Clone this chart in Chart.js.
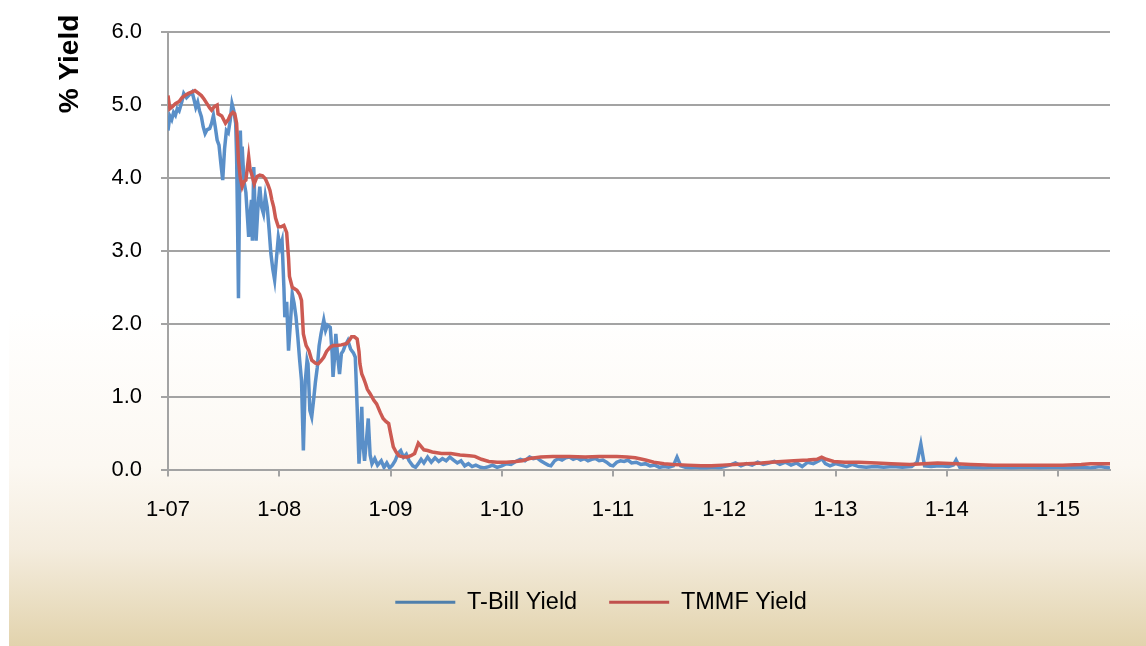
<!DOCTYPE html>
<html>
<head>
<meta charset="utf-8">
<script src="https://cdn.jsdelivr.net/npm/chart.js@4"></script>
<style>
  html, body { margin: 0; padding: 0; background: #fff; }
  #wrap { position: relative; width: 1146px; height: 646px; overflow: hidden; }
  #bg {
    position: absolute; left: 9px; top: 0; right: 0; bottom: 0;
    background: linear-gradient(to bottom, #ffffff 0%, #ffffff 48%, #fcf8f2 72%, #f4ecdd 85%, #e2d3ad 100%);
  }
  #chart { position: absolute; left: 0; top: 0; }
</style>
</head>
<body>
<div id="wrap">
  <div id="bg"></div>
  <canvas id="chart" width="1146" height="646"></canvas>
</div>
<script>
// x values are months since Jan 2007
var tickMonths = [0, 12, 24, 36, 48, 60, 72, 84, 96];
var tickLabels = ['1-07', '1-08', '1-09', '1-10', '1-11', '1-12', '1-13', '1-14', '1-15'];

var tbillMonths = [
  0, 0.2, 0.4, 0.6, 0.8, 1.0, 1.2, 1.5, 1.7, 2.0,
  2.3, 2.6, 2.8, 3.0, 3.2, 3.4, 3.6, 3.8, 4.0, 4.2,
  4.5, 4.7, 4.9, 5.1, 5.3, 5.5, 5.7, 5.9, 6.1, 6.3,
  6.5, 6.7, 6.9, 7.1, 7.3, 7.4, 7.5, 7.6, 7.7, 7.8,
  7.9, 8.0, 8.2, 8.4, 8.6, 8.7, 8.9, 9.0, 9.1, 9.25,
  9.4, 9.5, 9.7, 9.9, 10.1, 10.3, 10.5, 10.7, 10.9, 11.1,
  11.3, 11.5, 11.7, 11.9, 12.1, 12.3, 12.5, 12.6, 12.8, 13.0,
  13.2, 13.4, 13.6, 13.8, 14.0, 14.2, 14.4, 14.6, 14.8, 15.0,
  15.1, 15.3, 15.5, 15.7, 15.9, 16.1, 16.3, 16.5, 16.8, 17.0,
  17.2, 17.5, 17.7, 17.8, 18.0, 18.1, 18.3, 18.5, 18.7, 18.9,
  19.1, 19.4, 19.7, 20.0, 20.2, 20.4, 20.6, 20.8, 20.9, 21.0,
  21.2, 21.4, 21.6, 21.8,
  22.0, 22.3, 22.6, 23.0, 23.3, 23.6, 23.9, 24.2, 24.5, 24.8,
  25.1, 25.4, 25.7, 26.0, 26.4, 26.7, 27.0, 27.3, 27.6, 28.0,
  28.4, 28.8, 29.2, 29.6, 30.0, 30.4, 30.8, 31.2, 31.6, 32.0,
  32.4, 32.8, 33.2, 33.7, 34.1, 34.6, 35.0, 35.5, 36.0, 36.5,
  37.0, 37.5, 38.0, 38.5, 39.0, 39.4, 39.8, 40.2, 40.6, 41.0,
  41.3, 41.7, 42.1, 42.5, 42.9, 43.3, 43.7, 44.1, 44.5, 44.9,
  45.3, 45.7, 46.1, 46.5, 46.9, 47.3, 47.7, 48.0, 48.4, 48.8,
  49.2, 49.6, 50.0, 50.5, 51.0, 51.5, 52.0, 52.5, 53.0, 53.5,
  54.0, 54.5, 54.9, 55.3, 55.8, 56.4, 57.0, 57.6, 58.2, 58.8,
  59.4, 60.0, 60.6, 61.2, 61.8, 62.4, 63.0, 63.6, 64.2, 64.8,
  65.4, 66.0, 66.6, 67.2, 67.8, 68.4, 69.0, 69.6, 70.2, 70.5,
  70.9, 71.4, 72.0, 72.6, 73.2, 73.8, 74.5, 75.3, 76.2, 77.2,
  78.2, 79.2, 80.2, 80.8, 81.2, 81.6, 82.3, 83.2, 84.2, 84.7,
  85.0, 85.4, 86.5, 88.0, 89.5, 91.0, 92.5, 94.0, 95.5, 97.0,
  98.5, 99.5, 100.5, 101.6];
var tbillYield = [
  4.65, 4.85, 4.80, 4.90, 4.86, 4.95, 4.92, 5.05, 5.16, 5.10,
  5.14, 5.18, 5.08, 4.97, 5.04, 4.92, 4.84, 4.70, 4.61, 4.66,
  4.68, 4.75, 4.86, 4.70, 4.52, 4.45, 4.20, 3.97, 4.40, 4.65,
  4.62, 4.78, 5.02, 4.92, 4.75, 4.29, 3.40, 2.35, 3.60, 4.65,
  4.20, 4.43, 3.95, 3.80, 3.40, 3.19, 3.56, 3.70, 3.14, 4.15,
  3.50, 3.14, 3.60, 3.88, 3.60, 3.51, 3.75, 3.60, 3.30, 2.96,
  2.75, 2.60, 2.90, 3.19, 3.05, 3.14, 2.50, 2.09, 2.30, 1.63,
  2.00, 2.41, 2.28, 2.10, 1.82, 1.50, 1.22, 0.26, 1.20, 1.50,
  1.45, 0.81, 0.72, 0.95, 1.20, 1.40, 1.70, 1.86, 2.05, 1.91,
  1.98, 1.95, 1.60, 1.27, 1.60, 1.86, 1.55, 1.31, 1.59, 1.63,
  1.70, 1.77, 1.65, 1.60, 1.54, 0.86, 0.08, 0.50, 0.86, 0.40,
  0.12, 0.40, 0.70, 0.20,
  0.08, 0.15, 0.06, 0.12, 0.03, 0.09, 0.02, 0.06, 0.12, 0.22,
  0.26, 0.17, 0.21, 0.12, 0.05, 0.03, 0.08, 0.14, 0.09, 0.17,
  0.10, 0.16, 0.11, 0.15, 0.12, 0.17, 0.13, 0.09, 0.12, 0.05,
  0.08, 0.04, 0.06, 0.03, 0.02, 0.04, 0.06, 0.03, 0.05, 0.08,
  0.07, 0.11, 0.14, 0.12, 0.17, 0.15, 0.16, 0.12, 0.09, 0.06,
  0.05, 0.12, 0.15, 0.13, 0.16, 0.17, 0.14, 0.16, 0.13, 0.15,
  0.12, 0.14, 0.15, 0.12, 0.13, 0.10, 0.06, 0.05, 0.10, 0.12,
  0.11, 0.13, 0.09, 0.10, 0.07, 0.08, 0.05, 0.06, 0.03, 0.04,
  0.03, 0.05, 0.17, 0.05, 0.03, 0.02, 0.03, 0.01, 0.02, 0.03,
  0.02, 0.04, 0.06, 0.09, 0.05, 0.08, 0.06, 0.10, 0.07, 0.09,
  0.11, 0.07, 0.10, 0.06, 0.09, 0.04, 0.10, 0.08, 0.12, 0.15,
  0.08, 0.05, 0.08, 0.06, 0.04, 0.07, 0.04, 0.03, 0.04, 0.03,
  0.04, 0.03, 0.04, 0.10, 0.35, 0.05, 0.04, 0.05, 0.04, 0.06,
  0.13, 0.03, 0.03, 0.02, 0.03, 0.02, 0.03, 0.02, 0.03, 0.02,
  0.03, 0.02, 0.04, 0.02];

var tmmfMonths = [0, 0.2, 0.5, 0.8, 1.2, 1.5, 1.8, 2.2, 2.6, 2.9, 3.2, 3.6, 3.9, 4.2, 4.5, 4.7, 5.0, 5.3, 5.4, 5.8,
  6.2, 6.5, 6.7, 7.0, 7.2, 7.4, 7.6, 7.8, 8.0, 8.2, 8.4, 8.7, 8.85, 9.0, 9.3, 9.6, 9.9, 10.2, 10.5, 10.8,
  11.0, 11.2, 11.4, 11.6, 11.9, 12.2, 12.5, 12.8, 13.0, 13.1, 13.4, 13.9, 14.2, 14.4, 14.6, 14.9, 15.2, 15.5, 15.9, 16.2,
  16.5, 16.8, 17.1, 17.5, 17.8, 18.2, 18.7, 19.3, 19.6, 19.8, 20.1, 20.4, 20.6, 20.7, 20.9, 21.1, 21.3, 21.5, 21.8, 22.2,
  22.5, 22.9, 23.2, 23.5, 23.8, 24.0, 24.3, 24.6, 24.9, 25.4, 25.8, 26.2, 26.6, 27.0, 27.2, 27.6, 28.0, 28.5, 29.5, 30.5,
  31.5, 32.5, 33.1, 33.8, 34.6, 35.5, 36.5, 37.5, 38.2, 39.0, 40.2, 41.5, 43.3, 45.0, 46.5, 48.4, 49.5, 50.4, 51.5, 52.4,
  53.5, 54.5, 56.0, 57.5, 58.6, 59.8, 61.1, 62.5, 64.0, 65.0, 66.2, 67.5, 69.0, 70.0, 70.5, 71.0, 71.8, 73.0, 74.5, 76.4,
  78.0, 80.0, 81.5, 83.0, 85.0, 86.6, 89.0, 92.0, 94.2, 96.5, 98.5, 99.5, 101.6];
var tmmfYield = [5.13, 4.95, 4.98, 5.02, 5.05, 5.10, 5.13, 5.16, 5.18, 5.20, 5.17, 5.13, 5.08, 5.02, 4.96, 4.93, 4.98, 5.00, 4.88, 4.85,
  4.75, 4.80, 4.86, 4.90, 4.88, 4.75, 4.24, 4.00, 3.88, 3.95, 3.97, 4.29, 4.12, 4.06, 3.92, 4.02, 4.04, 4.03, 3.99, 3.90,
  3.83, 3.70, 3.60, 3.45, 3.33, 3.33, 3.35, 3.25, 2.90, 2.65, 2.50, 2.46, 2.40, 2.32, 1.86, 1.70, 1.63, 1.50, 1.46, 1.45,
  1.49, 1.54, 1.62, 1.68, 1.70, 1.70, 1.71, 1.73, 1.78, 1.82, 1.82, 1.79, 1.62, 1.45, 1.31, 1.25, 1.18, 1.10, 1.04, 0.95,
  0.90, 0.78, 0.70, 0.66, 0.63, 0.50, 0.31, 0.24, 0.19, 0.17, 0.17, 0.19, 0.22, 0.36, 0.33, 0.27, 0.26, 0.24, 0.22, 0.22,
  0.20, 0.19, 0.18, 0.14, 0.11, 0.10, 0.10, 0.11, 0.12, 0.15, 0.17, 0.18, 0.18, 0.17, 0.18, 0.18, 0.17, 0.16, 0.13, 0.10,
  0.08, 0.07, 0.06, 0.05, 0.05, 0.06, 0.07, 0.08, 0.09, 0.10, 0.11, 0.12, 0.13, 0.14, 0.17, 0.14, 0.11, 0.10, 0.10, 0.09,
  0.08, 0.07, 0.08, 0.09, 0.08, 0.07, 0.06, 0.06, 0.06, 0.06, 0.07, 0.08, 0.08];

function toPoints(xs, ys) {
  return xs.map(function (x, i) { return { x: x, y: ys[i] }; });
}

var FONT = "'Liberation Sans', Arial, sans-serif";
var GRID = '#a3a3a3';

// rotated y-axis title sitting near the top like the original
var yTitle = {
  id: 'yTitle',
  afterDraw: function (chart) {
    var ctx = chart.ctx;
    ctx.save();
    ctx.translate(70, 64);
    ctx.rotate(-Math.PI / 2);
    ctx.font = 'bold 28px ' + FONT;
    ctx.fillStyle = '#000';
    ctx.textAlign = 'center';
    ctx.textBaseline = 'middle';
    ctx.fillText('% Yield', 0, 0);
    ctx.restore();
  }
};

new Chart(document.getElementById('chart'), {
  type: 'line',
  data: {
    datasets: [{
      label: 'T-Bill Yield',
      data: toPoints(tbillMonths, tbillYield),
      borderColor: '#5a8fc8',
      backgroundColor: '#4f7fac',
      borderWidth: 3.5,
      pointRadius: 0,
      tension: 0,
      order: 1
    }, {
      label: 'TMMF Yield',
      data: toPoints(tmmfMonths, tmmfYield),
      borderColor: '#cc5a52',
      backgroundColor: '#c0504d',
      borderWidth: 3.5,
      pointRadius: 0,
      tension: 0,
      order: 0
    }]
  },
  options: {
    responsive: false,
    animation: false,
    layout: { padding: { left: 92, right: 36, top: 32, bottom: 22 } },
    plugins: {
      tooltip: { enabled: false },
      legend: {
        position: 'bottom',
        labels: {
          boxWidth: 60,
          boxHeight: 3,
          padding: 32,
          color: '#000',
          font: { family: FONT, size: 23.5 },
          sort: function (a, b) { return a.datasetIndex - b.datasetIndex; },
          generateLabels: function (chart) {
            return Chart.defaults.plugins.legend.labels.generateLabels(chart).map(function (l) {
              l.fillStyle = chart.data.datasets[l.datasetIndex].backgroundColor;
              l.lineWidth = 0;
              return l;
            });
          }
        }
      }
    },
    scales: {
      x: {
        type: 'linear',
        min: 0,
        max: 101.6,
        afterBuildTicks: function (scale) {
          scale.ticks = tickMonths.map(function (v) { return { value: v }; });
        },
        afterFit: function (scale) { scale.height = 89; },
        ticks: {
          autoSkip: false,
          maxRotation: 0,
          padding: 20,
          color: '#000',
          font: { family: FONT, size: 22 },
          callback: function (v) { return tickLabels[tickMonths.indexOf(v)]; }
        },
        grid: { drawOnChartArea: false, drawTicks: true, tickLength: 7, color: GRID, lineWidth: 2 },
        border: { color: GRID, width: 2 }
      },
      y: {
        min: 0,
        max: 6,
        afterFit: function (scale) { scale.width = 76; },
        ticks: {
          stepSize: 1,
          padding: 19,
          color: '#000',
          font: { family: FONT, size: 22 },
          callback: function (v) { return v.toFixed(1); }
        },
        grid: { color: GRID, lineWidth: 2, tickLength: 7 },
        border: { color: GRID, width: 2 }
      }
    }
  },
  plugins: [yTitle]
});
</script>
</body>
</html>
